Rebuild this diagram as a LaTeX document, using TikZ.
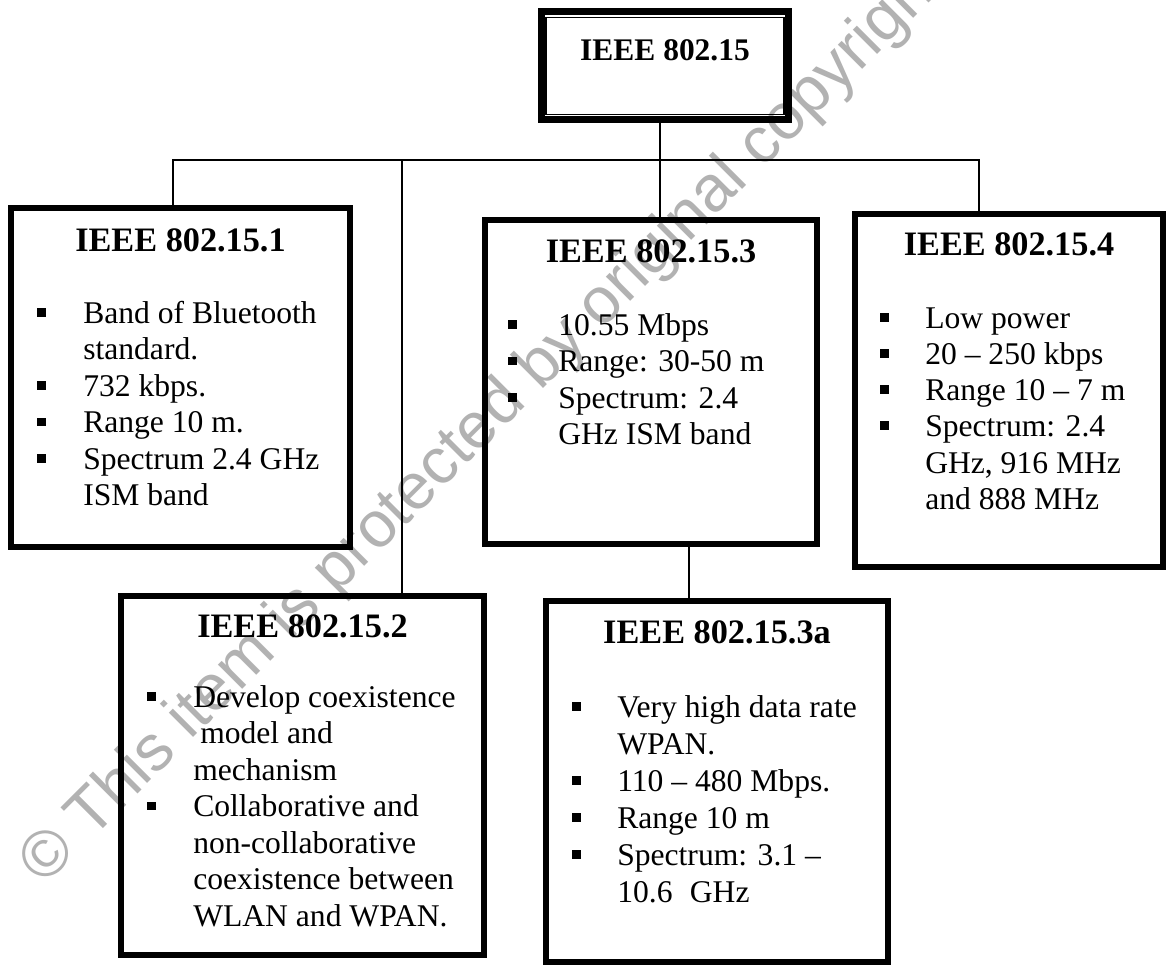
\documentclass[tikz,border=0pt]{standalone}
\usepackage{fontspec}
\setmainfont{Liberation Serif}
\newfontfamily\wmfamily{Liberation Sans}
\usetikzlibrary{fit}
\newcommand\bulsq{\rule[4.8pt]{6.4pt}{6.4pt}}
\tikzset{
  box/.style={draw, line width=4.5pt, inner sep=0pt, rectangle},
  topbox/.style={draw, line width=5.25pt, inner sep=0pt, rectangle},
  inner/.style={line width=1.1pt},
  conn/.style={line width=2.1pt},
  ttl/.style={anchor=base, inner sep=0pt, font=\fontsize{25.7}{30}\selectfont\bfseries},
  toptl/.style={anchor=base, inner sep=0pt, font=\fontsize{23.6}{28}\selectfont\bfseries},
  txt/.style={anchor=base west, inner sep=0pt, font=\fontsize{23.7}{27}\selectfont},
  bul/.style={anchor=base west, inner sep=0pt, font=\fontsize{23.7}{27}\selectfont},
  wm/.style={inner sep=0pt, text=black!30, font=\fontsize{48.7}{55}\selectfont\wmfamily},
}
\begin{document}
\begin{tikzpicture}[x=0.75pt,y=-0.75pt]
\fill[white] (0,0) rectangle (1169,966);
\useasboundingbox (0,0) rectangle (1169,966);

% watermark
\node[wm, rotate=45] (wmark) at (485,423) {© This item is protected by original copyright};

% boxes
\node[topbox, fit={(541.5,11.5)(788.5,119.5)}] (top) {};
\draw[inner] ([shift={(8,9.5)}]top.north west) rectangle ([shift={(-8,-8.5)}]top.south east);
\node[box, fit={(11,208)(350,547)}] (b1) {};
\node[box, fit={(485,220)(817,544)}] (b3) {};
\node[box, fit={(855,214)(1163,567)}] (b4) {};
\node[box, fit={(121,596)(484,955)}] (b2) {};
\node[box, fit={(546,601)(888,962)}] (b3a) {};

% junctions
\coordinate (c1) at (173,160);
\coordinate (c2) at (402,160);
\coordinate (c3) at (660,160);
\coordinate (c4) at (979,160);
\coordinate (c5) at (689,500);

% connectors
\draw[conn] (top.south -| c3) -- (b3.north -| c3);
\draw[conn] (b1.north -| c1) -- (c1) -- (c4) -- (b4.north -| c4);
\draw[conn] (c2) -- (b2.north -| c2);
\draw[conn] (b3.south -| c5) -- (b3a.north -| c5);

% titles
\node[toptl] (ttop) at (665,61) {IEEE 802.15};
\node[ttl] (t1) at (180.5,251) {IEEE 802.15.1};
\node[ttl] (t3) at (651,262) {IEEE 802.15.3};
\node[ttl] (t4) at (1009,255) {IEEE 802.15.4};
\node[ttl] (t2) at (302.5,637) {IEEE 802.15.2};
\node[ttl] (t3a) at (717,643) {IEEE 802.15.3a};

% box 1
\node[bul] (p11) at (37,323) {\bulsq};
\node[txt] (l11) at (83,323) {Band of Bluetooth};
\node[txt] (l12) at (83,359.5) {standard.};
\node[bul] (p12) at (37,396) {\bulsq};
\node[txt] (l13) at (83,396) {732 kbps.};
\node[bul] (p13) at (37,432.5) {\bulsq};
\node[txt] (l14) at (83,432.5) {Range 10 m.};
\node[bul] (p14) at (37,469) {\bulsq};
\node[txt] (l15) at (83,469) {Spectrum 2.4 GHz};
\node[txt] (l16) at (83,505.5) {ISM band};

% box 3
\node[bul] (p31) at (508,335) {\bulsq};
\node[txt] (l31) at (558,335) {10.55 Mbps};
\node[bul] (p32) at (508,371.5) {\bulsq};
\node[txt] (l32) at (558,371.5) {Range: 30-50 m};
\node[bul] (p33) at (508,408) {\bulsq};
\node[txt] (l33) at (558,408) {Spectrum: 2.4};
\node[txt] (l34) at (558,444.5) {GHz ISM band};

% box 4
\node[bul] (p41) at (880,328) {\bulsq};
\node[txt] (l41) at (925,328) {Low power};
\node[bul] (p42) at (880,364) {\bulsq};
\node[txt] (l42) at (925,364) {20 – 250 kbps};
\node[bul] (p43) at (880,400) {\bulsq};
\node[txt] (l43) at (925,400) {Range 10 – 7 m};
\node[bul] (p44) at (880,436) {\bulsq};
\node[txt] (l44) at (925,436) {Spectrum: 2.4};
\node[txt] (l45) at (925,473) {GHz, 916 MHz};
\node[txt] (l46) at (925,509) {and 888 MHz};

% box 2
\node[bul] (p21) at (147,707) {\bulsq};
\node[txt] (l21) at (193,707) {Develop coexistence};
\node[txt] (l22) at (200,743.5) {model and};
\node[txt] (l23) at (193,780) {mechanism};
\node[bul] (p22) at (147,816.5) {\bulsq};
\node[txt] (l24) at (193,816.5) {Collaborative and};
\node[txt] (l25) at (193,853) {non-collaborative};
\node[txt] (l26) at (193,889.5) {coexistence between};
\node[txt] (l27) at (193,926) {WLAN and WPAN.};

% box 3a
\node[bul] (pa1) at (572,717) {\bulsq};
\node[txt] (la1) at (617,717) {Very high data rate};
\node[txt] (la2) at (617,754) {WPAN.};
\node[bul] (pa2) at (572,791) {\bulsq};
\node[txt] (la3) at (617,791) {110 – 480 Mbps.};
\node[bul] (pa3) at (572,828) {\bulsq};
\node[txt] (la4) at (617,828) {Range 10 m};
\node[bul] (pa4) at (572,865) {\bulsq};
\node[txt] (la5) at (617,865) {Spectrum: 3.1 –};
\node[txt] (la6) at (617,902) {10.6\hspace{13pt}GHz};
\end{tikzpicture}
\end{document}
